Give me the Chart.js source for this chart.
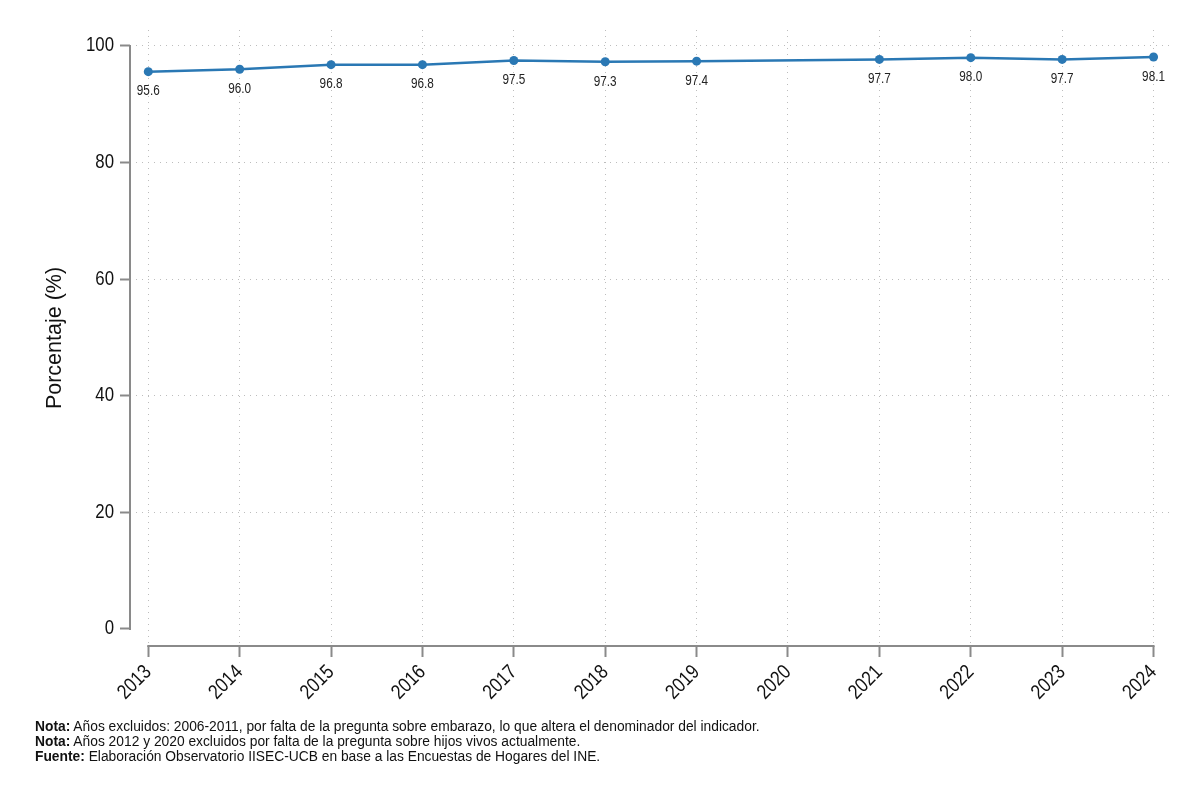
<!DOCTYPE html>
<html>
<head>
<meta charset="utf-8">
<script src="https://cdn.jsdelivr.net/npm/chart.js@4.4.1/dist/chart.umd.min.js"></script>
<style>
  html, body { margin: 0; padding: 0; background: #fff; }
  #wrap { position: relative; width: 1200px; height: 801px; }
  #notes { position: absolute; left: 35px; top: 719px; font-family: "Liberation Sans", Arial, sans-serif; font-size: 13.8px; line-height: 15px; color: #111; white-space: nowrap; }
  #notes b { font-weight: bold; }
</style>
</head>
<body>
<div id="wrap">
  <canvas id="c" width="1200" height="801"></canvas>
  <div id="notes">
    <div><b>Nota:</b> Años excluidos: 2006-2011, por falta de la pregunta sobre embarazo, lo que altera el denominador del indicador.</div>
    <div><b>Nota:</b> Años 2012 y 2020 excluidos por falta de la pregunta sobre hijos vivos actualmente.</div>
    <div><b>Fuente:</b> Elaboración Observatorio IISEC-UCB en base a las Encuestas de Hogares del INE.</div>
  </div>
</div>
<script>
const years = [2013, 2014, 2015, 2016, 2017, 2018, 2019, 2020, 2021, 2022, 2023, 2024];
const values = [95.6, 96.0, 96.8, 96.8, 97.5, 97.3, 97.4, null, 97.7, 98.0, 97.7, 98.1];
const yTicks = [0, 20, 40, 60, 80, 100];
const yTitle = 'Porcentaje (%)';

const FONT = '"Liberation Sans", Arial, sans-serif';
const AXIS = '#8a8a8a';
const LINE = '#2a78b4';
const NARROW = 0.84;

function narrowText(ctx, text, x, y, rot, align, font) {
  ctx.save();
  ctx.translate(x, y);
  if (rot) ctx.rotate(rot);
  ctx.scale(NARROW, 1);
  ctx.font = font;
  ctx.textAlign = align;
  ctx.textBaseline = 'middle';
  ctx.fillText(text, 0, 0);
  ctx.restore();
}

const axesPlugin = {
  id: 'axesLines',
  afterDatasetsDraw(chart) {
    const {ctx, scales: {x, y}} = chart;
    ctx.save();
    ctx.strokeStyle = AXIS;
    ctx.lineWidth = 2;
    ctx.beginPath();
    const xl = x.left;
    ctx.moveTo(xl, y.getPixelForValue(yTicks[0]) + 1);
    ctx.lineTo(xl, y.getPixelForValue(yTicks[yTicks.length - 1]) - 1);
    ctx.stroke();
    ctx.beginPath();
    const yb = y.bottom;
    ctx.moveTo(x.getPixelForValue(years[0]) - 1, yb);
    ctx.lineTo(x.getPixelForValue(years[years.length - 1]) + 1, yb);
    ctx.stroke();
    ctx.restore();
  },
  afterDraw(chart) {
    const {ctx, scales: {x, y}} = chart;
    ctx.save();
    ctx.fillStyle = '#111';
    yTicks.forEach(v => {
      narrowText(ctx, String(v), x.left - 16, y.getPixelForValue(v), 0, 'right', '20px ' + FONT);
    });
    years.forEach(v => {
      const px = x.getPixelForValue(v);
      narrowText(ctx, String(v), px, y.bottom + 23, -Math.PI / 4, 'right', '20.5px ' + FONT);
    });
    ctx.fillStyle = '#222';
    const meta = chart.getDatasetMeta(0);
    meta.data.forEach((pt, i) => {
      const v = values[i];
      if (v === null || v === undefined) return;
      narrowText(ctx, v.toFixed(1), pt.x, pt.y + 20, 0, 'center', '14px ' + FONT);
    });
    ctx.restore();
  }
};

new Chart(document.getElementById('c'), {
  type: 'line',
  data: {
    datasets: [{
      data: years.map((yr, i) => ({x: yr, y: values[i]})),
      borderColor: LINE,
      backgroundColor: LINE,
      borderWidth: 2.5,
      pointRadius: 4.5,
      pointBackgroundColor: LINE,
      pointBorderWidth: 0,
      spanGaps: true,
      tension: 0
    }]
  },
  options: {
    responsive: false,
    animation: false,
    devicePixelRatio: 1,
    layout: { padding: { top: 30, right: 30, left: 0, bottom: 0 } },
    plugins: { legend: { display: false }, tooltip: { enabled: false } },
    scales: {
      x: {
        type: 'linear',
        min: 2012.8,
        max: 2024.18,
        afterBuildTicks: (s) => { s.ticks = years.map(v => ({value: v})); },
        afterFit: (s) => { s.height = 155; },
        ticks: { display: false },
        grid: {
          color: '#bdbdbd',
          lineWidth: 1,
          drawTicks: true,
          tickLength: 11,
          tickColor: AXIS,
          tickWidth: 2,
          tickBorderDash: []
        },
        border: { display: false, dash: [1, 5] }
      },
      y: {
        min: -2.92,
        max: 102.74,
        afterBuildTicks: (s) => { s.ticks = yTicks.map(v => ({value: v})); },
        afterFit: (s) => { s.width = 130; },
        ticks: { display: false },
        grid: {
          color: (c) => (c.tick && c.tick.value === 0) ? 'rgba(0,0,0,0)' : '#bdbdbd',
          lineWidth: 1,
          drawTicks: true,
          tickLength: 10,
          tickColor: AXIS,
          tickWidth: 2,
          tickBorderDash: []
        },
        border: { display: false, dash: [1, 5] },
        title: {
          display: true,
          text: yTitle,
          font: { family: FONT, size: 21.5 },
          color: '#111',
          padding: { top: 42, bottom: 0 }
        }
      }
    }
  },
  plugins: [axesPlugin]
});
</script>
</body>
</html>
